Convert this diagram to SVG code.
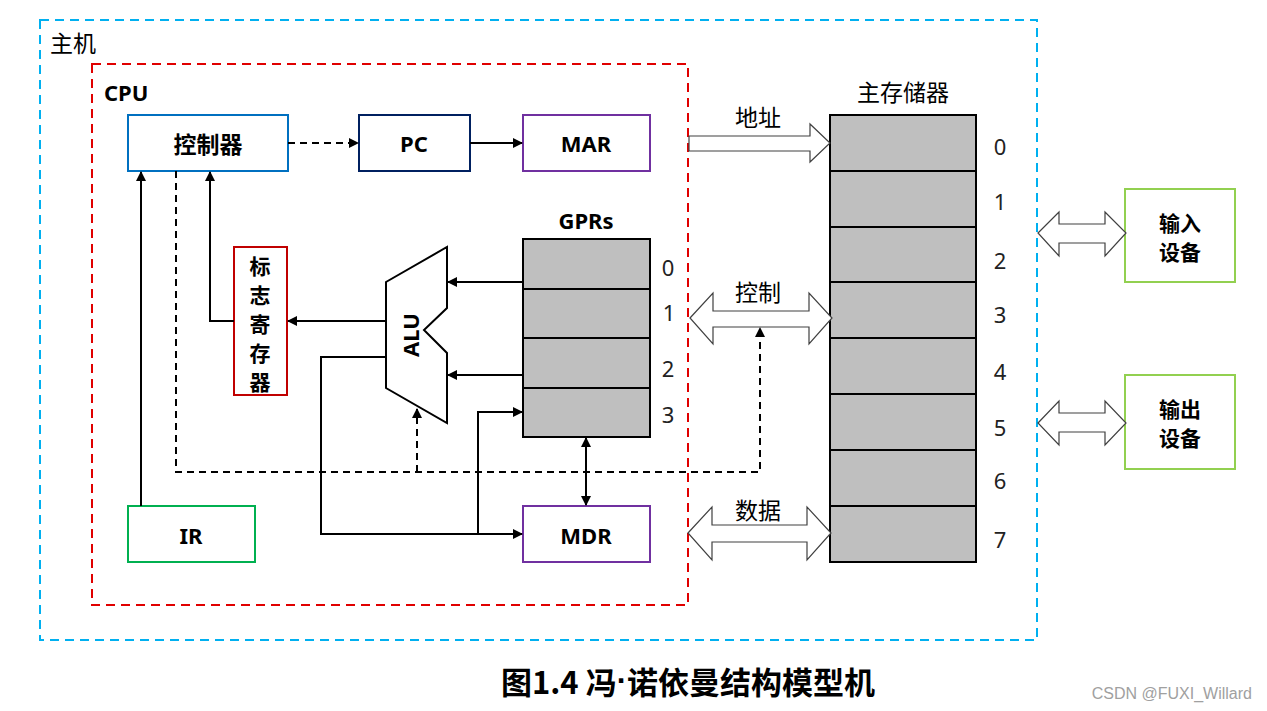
<svg xmlns="http://www.w3.org/2000/svg" width="1267" height="711" viewBox="0 0 1267 711">
<defs>
<marker id="ah" viewBox="0 0 10 10" refX="9" refY="5" markerWidth="10" markerHeight="10" markerUnits="userSpaceOnUse" orient="auto-start-reverse"><path d="M0,0 L10,5 L0,10 z" fill="#000"/></marker>
</defs>
<style>
text{font-family:"Noto Sans CJK SC","Noto Sans",sans-serif;fill:#000}
.t{font-size:23px;text-anchor:middle;dominant-baseline:central}
.s{font-size:21px}
.l{font-family:"Noto Sans",sans-serif;font-size:22px}
.b{font-weight:bold}
.n{font-family:"Noto Sans","Liberation Sans",sans-serif;font-size:22px;text-anchor:middle;dominant-baseline:central;fill:#222}
.ln{fill:none;stroke:#000;stroke-width:2}
.ds{fill:none;stroke:#000;stroke-width:2;stroke-dasharray:7,5}
.cell{fill:#BFBFBF;stroke:#000;stroke-width:2}
.blk{fill:#fff;stroke:#404040;stroke-width:1.2}
</style>
<rect width="1267" height="711" fill="#fff"/>
<g id="host"><rect x="40" y="20" width="997" height="620" fill="none" stroke="#00B0F0" stroke-width="2" stroke-dasharray="9,6"/><text x="50" y="42" class="t" style="text-anchor:start">主机</text></g>
<g id="cpu"><rect x="92" y="64" width="596" height="541" fill="none" stroke="#E00000" stroke-width="2" stroke-dasharray="9,6"/><text x="104" y="92" class="t b l" style="text-anchor:start">CPU</text></g>
<g id="controller"><rect x="128" y="115" width="160" height="56" fill="#fff" stroke="#0070C0" stroke-width="2"/><text x="208" y="143" class="t b">控制器</text></g>
<g id="pc"><rect x="359" y="115" width="111" height="56" fill="#fff" stroke="#002060" stroke-width="2"/><text x="414" y="143" class="t b l">PC</text></g>
<g id="mar"><rect x="523" y="115" width="127" height="56" fill="#fff" stroke="#7030A0" stroke-width="2"/><text x="586" y="143" class="t b l">MAR</text></g>
<g id="flag"><rect x="234" y="247" width="53" height="148" fill="#fff" stroke="#C00000" stroke-width="2"/><text x="260" y="265" class="t b s">标</text><text x="260" y="294" class="t b s">志</text><text x="260" y="323" class="t b s">寄</text><text x="260" y="352" class="t b s">存</text><text x="260" y="381" class="t b s">器</text></g>
<g id="alu"><path d="M386,282 L447,247 L447,308 L424,330 L447,353 L447,423 L386,388 Z" fill="#fff" stroke="#000" stroke-width="2"/><text transform="translate(410,335) rotate(-90)" class="t b l">ALU</text></g>
<g id="gprs"><text x="586" y="220" class="t b l">GPRs</text>
<rect x="523" y="239" width="127" height="50" class="cell"/><rect x="523" y="289" width="127" height="49" class="cell"/><rect x="523" y="338" width="127" height="50" class="cell"/><rect x="523" y="388" width="127" height="49" class="cell"/>
<text x="668" y="267" class="n">0</text><text x="669" y="312" class="n">1</text><text x="668" y="368" class="n">2</text><text x="668" y="414" class="n">3</text></g>
<g id="ir"><rect x="128" y="506" width="127" height="56" fill="#fff" stroke="#00B050" stroke-width="2"/><text x="191" y="535" class="t b l">IR</text></g>
<g id="mdr"><rect x="523" y="506" width="127" height="56" fill="#fff" stroke="#7030A0" stroke-width="2"/><text x="586" y="535" class="t b l">MDR</text></g>
<g id="memory"><text x="903" y="91" class="t">主存储器</text>
<rect x="830" y="115" width="146" height="56" class="cell"/><rect x="830" y="171" width="146" height="56" class="cell"/><rect x="830" y="227" width="146" height="55" class="cell"/><rect x="830" y="282" width="146" height="56" class="cell"/><rect x="830" y="338" width="146" height="56" class="cell"/><rect x="830" y="394" width="146" height="56" class="cell"/><rect x="830" y="450" width="146" height="56" class="cell"/><rect x="830" y="506" width="146" height="56" class="cell"/>
<text x="1000" y="146" class="n">0</text><text x="1000" y="201" class="n">1</text><text x="1000" y="260" class="n">2</text><text x="1000" y="314" class="n">3</text><text x="1000" y="371" class="n">4</text><text x="1000" y="427" class="n">5</text><text x="1000" y="480" class="n">6</text><text x="1000" y="539" class="n">7</text></g>
<g id="input"><rect x="1125" y="189" width="110" height="93" fill="#fff" stroke="#92D050" stroke-width="2"/><text x="1180" y="222" class="t b s">输入</text><text x="1180" y="251" class="t b s">设备</text></g>
<g id="output"><rect x="1125" y="375" width="110" height="94" fill="#fff" stroke="#92D050" stroke-width="2"/><text x="1180" y="408" class="t b s">输出</text><text x="1180" y="437" class="t b s">设备</text></g>
<g id="connectors">
<line x1="288" y1="143" x2="358" y2="143" class="ds" marker-end="url(#ah)"/>
<line x1="470" y1="143" x2="522" y2="143" class="ln" marker-end="url(#ah)"/>
<line x1="523" y1="282" x2="448" y2="282" class="ln" marker-end="url(#ah)"/>
<line x1="523" y1="375" x2="448" y2="375" class="ln" marker-end="url(#ah)"/>
<line x1="386" y1="321" x2="288" y2="321" class="ln" marker-end="url(#ah)"/>
<polyline points="234,321 210,321 210,172" class="ln" marker-end="url(#ah)"/>
<line x1="141" y1="506" x2="141" y2="172" class="ln" marker-end="url(#ah)"/>
<polyline points="176,171 176,472 760,472 760,328" class="ds" marker-end="url(#ah)"/>
<line x1="417" y1="472" x2="417" y2="409" class="ds" marker-end="url(#ah)"/>
<polyline points="386,357 321,357 321,534 522,534" class="ln" marker-end="url(#ah)"/>
<polyline points="478,534 478,412 522,412" class="ln" marker-end="url(#ah)"/>
<line x1="586" y1="438" x2="586" y2="505" class="ln" marker-start="url(#ah)" marker-end="url(#ah)"/>
<path d="M689,136 L810,136 L810,124 L830,143 L810,162 L810,151 L689,151 Z" class="blk"/>
<text x="758" y="116" class="t">地址</text>
<path d="M690,318 L713,293 L713,311 L809,311 L809,293 L832,318 L809,344 L809,327 L713,327 L713,344 Z" class="blk"/>
<text x="758" y="291" class="t">控制</text>
<path d="M688,533 L712,507 L712,525 L807,525 L807,507 L831,533 L807,560 L807,542 L712,542 L712,560 Z" class="blk"/>
<text x="758" y="509" class="t">数据</text>
<path d="M1038,233 L1059,212 L1059,224 L1105,224 L1105,212 L1126,233 L1105,256 L1105,243 L1059,243 L1059,256 Z" class="blk"/>
<path d="M1038,423 L1059,401 L1059,413 L1105,413 L1105,401 L1126,423 L1105,445 L1105,432 L1059,432 L1059,445 Z" class="blk"/>
</g>
<text x="688" y="680" class="t b" style="font-size:31px">图1.4 冯<tspan style="font-family:'Liberation Sans',sans-serif">·</tspan>诺依曼结构模型机</text>
<text x="1252" y="693" style="font-family:'Liberation Sans',sans-serif;font-size:16px;fill:#A0A0A0;text-anchor:end;dominant-baseline:central">CSDN @FUXI_Willard</text>
</svg>
